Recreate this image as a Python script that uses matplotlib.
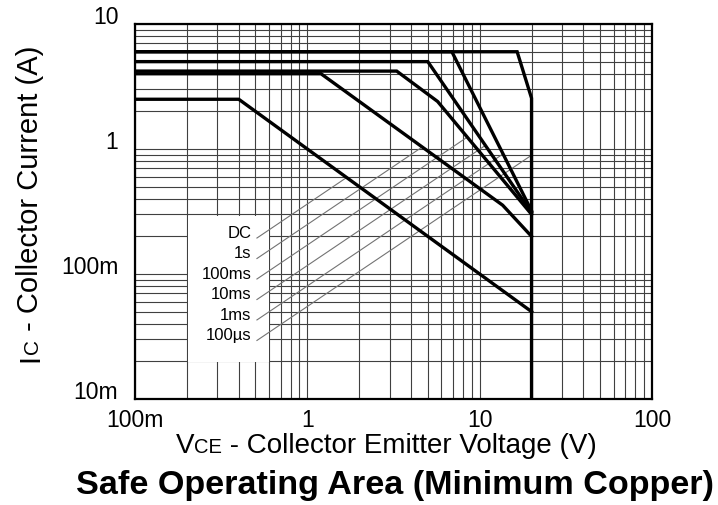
import numpy as np
import matplotlib
matplotlib.use("Agg")
import matplotlib.pyplot as plt
from matplotlib.patches import Rectangle
from matplotlib.transforms import IdentityTransform

plt.rcParams['font.family'] = ['Liberation Sans', 'DejaVu Sans']

# SOA curves (V in volts, I in amps)
v_dc = [0.1, 0.4, 20]
i_dc = [2.5, 2.5, 0.05]
v_1s = [0.1, 1.2, 13.6, 20]
i_1s = [4.0, 4.0, 0.355, 0.2]
v_100ms = [0.1, 3.3, 5.7, 20]
i_100ms = [4.2, 4.2, 2.4, 0.3]
v_10ms = [0.1, 5.0, 20]
i_10ms = [5.0, 5.0, 0.31]
v_1ms = [0.1, 6.9, 20]
i_1ms = [6.0, 6.0, 0.32]
v_100us = [0.1, 16.5, 20, 20]
i_100us = [6.0, 6.0, 2.55, 0.01]

labels = ['DC', '1s', '100ms', '10ms', '1ms', '100µs']
curves = [(v_dc, i_dc), (v_1s, i_1s), (v_100ms, i_100ms),
          (v_10ms, i_10ms), (v_1ms, i_1ms), (v_100us, i_100us)]
# where each leader line leaves its label
leader_v = 0.51
leader_i = [0.194, 0.133, 0.0912, 0.0625, 0.0429, 0.0294]
leader_slope = 0.93  # decades of I per decade of V

x_ticks = [0.1, 1, 10, 100]
x_ticklabels = ['100m', '1', '10', '100']
y_ticks = [0.01, 0.1, 1, 10]
y_ticklabels = ['10m', '100m', '1', '10']

fig = plt.figure(figsize=(7.18, 5.05), dpi=100)
ax = fig.add_axes([135 / 718, 1 - 399 / 505, 517 / 718, 375 / 505])
ax.set_xscale('log')
ax.set_yscale('log')
ax.set_xlim(0.1, 100)
ax.set_ylim(0.01, 10)
ax.set_axisbelow(True)
ax.grid(True, which='both', color='0.25', lw=0.8)

ax.set_xticks(x_ticks)
ax.set_xticklabels(x_ticklabels)
ax.set_yticks(y_ticks)
ax.set_yticklabels(y_ticklabels, va='baseline')
ax.tick_params(which='both', length=0, labelsize=16.5)
ax.tick_params(axis='x', pad=7)
ax.tick_params(axis='y', pad=12)
for s in ax.spines.values():
    s.set_linewidth(1.6)

# white patch behind the labels
ax.add_patch(Rectangle((0.203, 0.0198), 0.6 - 0.203, 0.291 - 0.0198,
                       facecolor='white', edgecolor='none', zorder=1))

for v, i in curves:
    ax.plot(v, i, color='black', lw=2.4, zorder=3, solid_joinstyle='miter')


def leader_end(v, i, lv0, li0):
    lv = np.log10(v)
    li = np.log10(i)
    keep = np.concatenate([[True], np.diff(lv) > 0])
    xs = np.linspace(np.log10(lv0), np.log10(20), 3000)
    cy = np.interp(xs, lv[keep], li[keep])
    ly = np.log10(li0) + leader_slope * (xs - np.log10(lv0))
    hit = np.nonzero(ly >= cy)[0]
    k = hit[0] if len(hit) else len(xs) - 1
    return 10 ** xs[k], 10 ** ly[k]


for lab, (v, i), li0 in zip(labels, curves, leader_i):
    ve, ie = leader_end(np.array(v), np.array(i), leader_v, li0)
    ax.plot([leader_v, ve], [li0, ie], color='0.45', lw=0.8, zorder=2)
    ax.annotate(lab, (leader_v, li0), xytext=(-4, 3.5), textcoords='offset points',
                ha='right', va='center', fontsize=12, zorder=4)


def rich_text(x, y, pieces, rotation=0):
    """Draw text pieces of mixed size, centred on pixel point (x, y) along baseline."""
    r = fig.canvas.get_renderer()

    def width(s, size):
        a = fig.text(0, 0, '|' + s + '|', fontsize=size)
        b = fig.text(0, 0, '||', fontsize=size)
        w = a.get_window_extent(r).width - b.get_window_extent(r).width
        a.remove()
        b.remove()
        return w

    ws = [width(s, size) for s, size in pieces]
    pos = -sum(ws) / 2
    for (s, size), w in zip(pieces, ws):
        if rotation == 0:
            px, py = x + pos, y
        else:
            px, py = x, y + pos
        fig.text(px, py, s, fontsize=size, rotation=rotation, rotation_mode='anchor',
                 ha='left', va='baseline', transform=IdentityTransform())
        pos += w


rich_text(386, 505 - 453, [('V', 20), ('CE', 14.5), (' - Collector Emitter Voltage (V)', 20)])
rich_text(38, 505 - 204, [('I', 21), ('C', 15), (' - Collector Current (A)', 21)], rotation=90)

fig.text(76 / 718, 1 - 494 / 505, 'Safe Operating Area (Minimum Copper)',
         fontsize=24.6, fontweight='bold', ha='left', va='baseline')

fig.savefig('out.png', dpi=100)
